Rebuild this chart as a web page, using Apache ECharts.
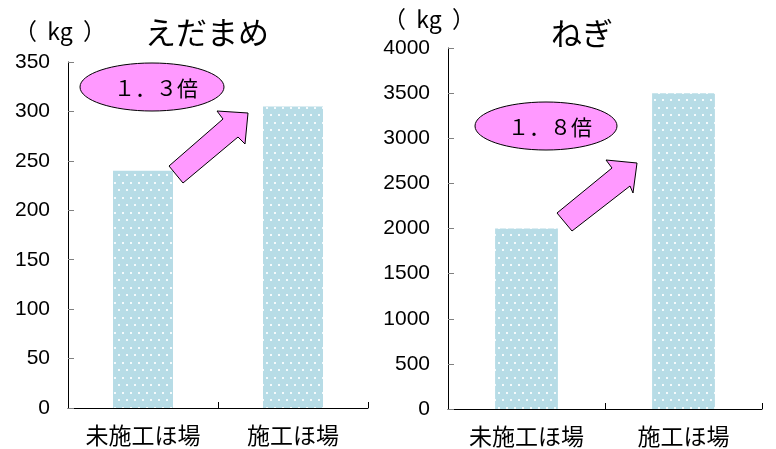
<!DOCTYPE html>
<html><head><meta charset="utf-8">
<script src="https://cdn.jsdelivr.net/npm/echarts@6/dist/echarts.min.js"></script>
<style>html,body{margin:0;padding:0;background:#fff}#c{width:776px;height:449px}</style>
</head><body><div id="c"></div>
<script>
const categories = ['未施工ほ場', '施工ほ場'];
const edamameValues = [240, 305];
const negiValues = [2000, 3500];
const titles = ['えだまめ', 'ねぎ'];
const unitLabel = '（  kg  ）';
const ratioLabels = ['１．３倍', '１．８倍'];

function makePattern() {
  const c = document.createElement('canvas');
  c.width = 16; c.height = 15;
  const g = c.getContext('2d');
  g.fillStyle = '#b7dce6';
  g.fillRect(0, 0, 16, 15);
  g.fillStyle = '#f4fafc';
  [[3,3],[11,3],[7,10],[15,10]].forEach(p => { g.fillRect(p[0]-1, p[1]-1, 2, 2); });
  return c;
}
const pat = { image: makePattern(), repeat: 'repeat' };
const JP = '"Noto Sans CJK JP", sans-serif';
const NUM = '"Liberation Sans", Arial, sans-serif';

function yAxis(gi, max, interval) {
  return {
    type: 'value', gridIndex: gi, min: 0, max: max, interval: interval,
    axisLine: { show: true, lineStyle: { color: '#000', width: 1 } },
    axisTick: { show: true, inside: true, length: 6, lineStyle: { color: '#808080' } },
    splitLine: { show: false },
    axisLabel: { color: '#000', fontSize: 21, fontFamily: NUM, margin: 18, formatter: v => String(v) }
  };
}
function xAxis(gi) {
  return {
    type: 'category', gridIndex: gi, data: categories,
    axisLine: { lineStyle: { color: '#000', width: 1 } },
    axisTick: { show: true, inside: true, length: 6, lineStyle: { color: '#000' } },
    axisLabel: { color: '#000', fontSize: 23, fontFamily: JP, margin: 16 }
  };
}
function arrow(pts) {
  return { type: 'polygon', shape: { points: pts }, style: { fill: '#ff99ff', stroke: '#000', lineWidth: 1 }, z: 100 };
}

const chart = echarts.init(document.getElementById('c'), null, { renderer: 'canvas' });
chart.setOption({
  animation: false,
  grid: [
    { left: 68, top: 62, width: 300, height: 346 },
    { left: 448, top: 48, width: 314, height: 361 }
  ],
  xAxis: [xAxis(0), xAxis(1)],
  yAxis: [yAxis(0, 350, 50), yAxis(1, 4000, 500)],
  series: [
    { type: 'bar', xAxisIndex: 0, yAxisIndex: 0, data: edamameValues, barWidth: '40%', itemStyle: { color: pat } },
    { type: 'bar', xAxisIndex: 1, yAxisIndex: 1, data: negiValues, barWidth: '40%', itemStyle: { color: pat } }
  ],
  graphic: [
    { type: 'text', x: 207, y: 32, style: { text: titles[0], font: '31px ' + JP, fill: '#000', align: 'center', verticalAlign: 'middle' } },
    { type: 'text', x: 582, y: 33, style: { text: titles[1], font: '31px ' + JP, fill: '#000', align: 'center', verticalAlign: 'middle' } },
    { type: 'text', x: 60, y: 31, style: { text: unitLabel, font: '23px ' + JP, fill: '#000', align: 'center', verticalAlign: 'middle' } },
    { type: 'text', x: 429, y: 19, style: { text: unitLabel, font: '23px ' + JP, fill: '#000', align: 'center', verticalAlign: 'middle' } },
    { type: 'ellipse', shape: { cx: 152, cy: 87, rx: 72, ry: 24 }, style: { fill: '#ff99ff', stroke: '#000', lineWidth: 1 }, z: 100 },
    { type: 'text', x: 156, y: 88, style: { text: ratioLabels[0], font: '21px ' + JP, fill: '#000', align: 'center', verticalAlign: 'middle' }, z: 101 },
    { type: 'ellipse', shape: { cx: 546, cy: 126, rx: 71, ry: 24 }, style: { fill: '#ff99ff', stroke: '#000', lineWidth: 1 }, z: 100 },
    { type: 'text', x: 550, y: 127, style: { text: ratioLabels[1], font: '21px ' + JP, fill: '#000', align: 'center', verticalAlign: 'middle' }, z: 101 },
    arrow([[169,166],[223,119],[217,111],[248,113],[245,144],[238,137],[183,183]]),
    arrow([[557,213],[612,168],[606,160],[637,163],[633,193],[630,186],[572,231]])
  ]
});
</script></body></html>
